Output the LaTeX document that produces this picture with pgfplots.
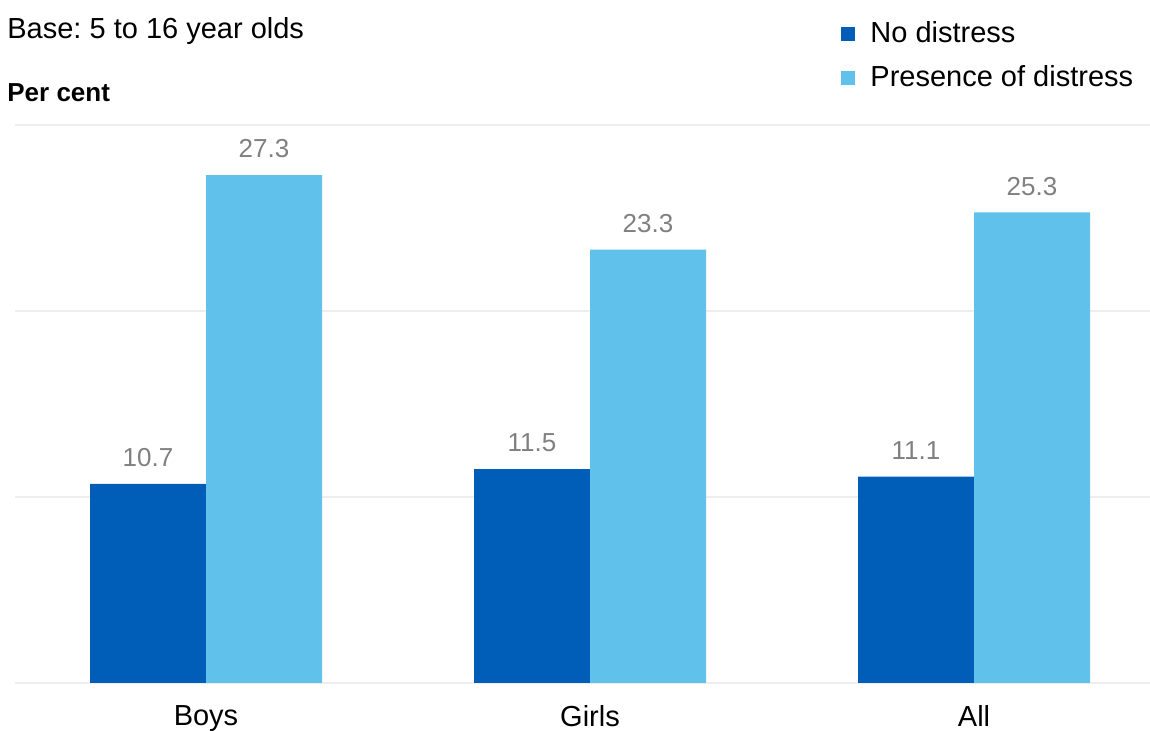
\documentclass[border=0pt]{standalone}
\usepackage{pgfplots}
\pgfplotsset{compat=1.18}
\usepackage{fontspec}
\setmainfont{Liberation Sans}
\frenchspacing
\definecolor{dkblue}{HTML}{005EB8}
\definecolor{ltblue}{HTML}{60C2EA}
\definecolor{gridc}{HTML}{EEEEEE}
\definecolor{lblc}{HTML}{808080}
\begin{document}
\begin{tikzpicture}[x=0.5pt,y=0.5pt]
\useasboundingbox (-15,-48) rectangle (1135,683);
\begin{axis}[
  at={(0,0)}, anchor=south west,
  scale only axis,
  width=567.5pt, height=279pt,
  xmin=-0.4974, xmax=2.4583,
  ymin=0, ymax=30,
  axis line style={draw=none},
  ytick={0,10,20,30},
  ymajorgrids=true,
  grid style={gridc, line width=0.8pt},
  xtick={0,1,2},
  xticklabels={Boys,Girls,All},
  xticklabel style={font=\fontsize{14.5}{17}\selectfont, text=black, yshift=-3.5pt},
  xtick style={draw=none},
  ytick style={draw=none},
  yticklabels={},
  /pgf/number format/assume math mode=true,
  ybar=0pt,
  bar width=58pt,
  clip=false,
  nodes near coords,
  nodes near coords style={font=\fontsize{13}{15}\selectfont, text=lblc, yshift=5pt},
  every node near coord/.append style={/pgf/number format/.cd, fixed, fixed zerofill, precision=1, assume math mode=true},
  legend style={draw=none, fill=none, at={(rel axis cs:0.7278,1.0)}, anchor=south west, yshift=15.5pt,
    font=\fontsize{14.5}{17}\selectfont, row sep=6pt, cells={anchor=west}, inner sep=0pt,
    /tikz/every odd column/.append style={column sep=5.5pt}},
  legend image code/.code={\fill[#1] (0pt,-3.5pt) rectangle (7pt,3.5pt);},
]
\addplot[fill=dkblue, draw=none] coordinates {(0,10.7) (1,11.5) (2,11.1)};
\addplot[fill=ltblue, draw=none] coordinates {(0,27.3) (1,23.3) (2,25.3)};
\legend{No distress, Presence of distress}
\end{axis}
\node[anchor=base west, font=\fontsize{14.5}{17}\selectfont, inner sep=0pt] at (-8,644) {Base: 5 to 16 year olds};
\node[anchor=base west, font=\bfseries\fontsize{13}{15}\selectfont, inner sep=0pt] at (-8,581) {Per cent};
\end{tikzpicture}
\end{document}
